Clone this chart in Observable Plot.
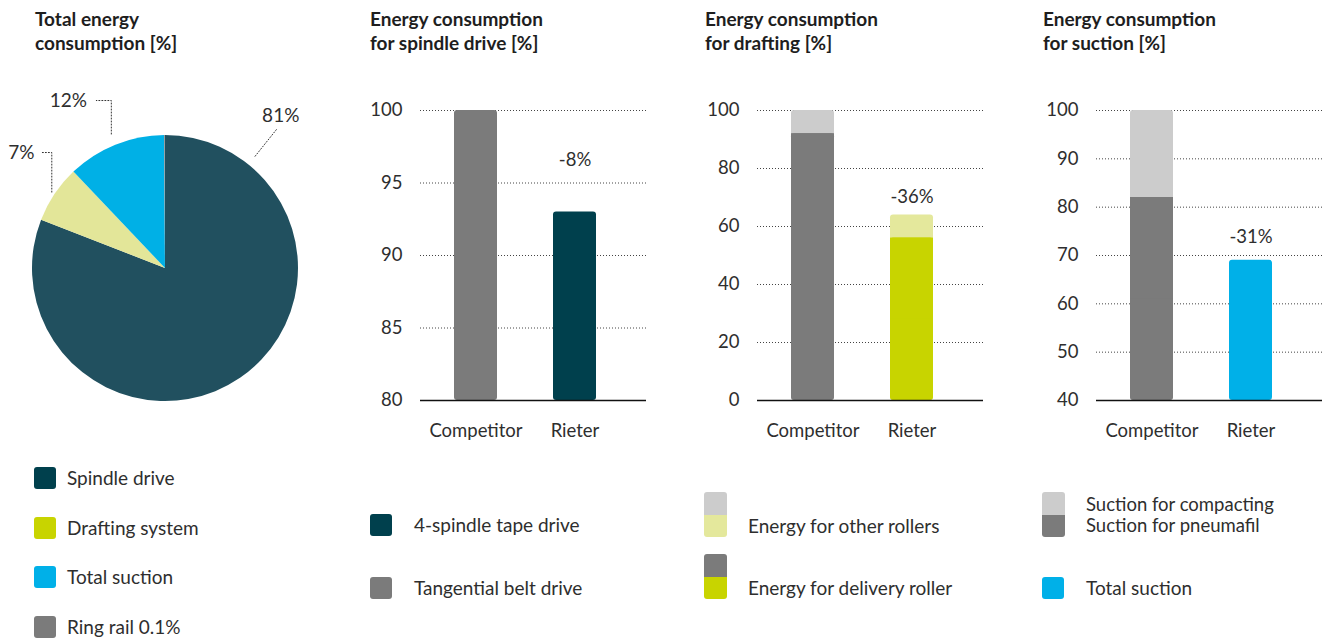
<!DOCTYPE html>
<html>
<head>
<meta charset="utf-8">
<script src="https://cdn.jsdelivr.net/npm/d3@7"></script>
<script src="https://cdn.jsdelivr.net/npm/@observablehq/plot@0.6"></script>
<style>
  html, body { margin: 0; padding: 0; background: #fff; }
  #root { position: relative; width: 1325px; height: 642px; overflow: hidden; font-family: Lato, "Noto Sans", sans-serif; color: #2e2e2e; }
  .title { position: absolute; top: 7px; font-weight: 700; font-size: 19px; line-height: 24px; color: #1e1e1e; white-space: nowrap; }
  .leg { position: absolute; display: flex; align-items: center; font-size: 19px; white-space: nowrap; color: #2e2e2e; }
  .sw { width: 22px; height: 22px; border-radius: 3px; }
  .split { width: 23px; height: 45px; border-radius: 3px; overflow: hidden; display: flex; flex-direction: column; }
  .split div { flex: 1; }
  svg { overflow: visible; }
</style>
</head>
<body>
<div id="root"></div>
<script>
// ---------------- data ----------------
const titles = [
  ["Total energy", "consumption [%]"],
  ["Energy consumption", "for spindle drive [%]"],
  ["Energy consumption", "for drafting [%]"],
  ["Energy consumption", "for suction [%]"]
];

// Panel 1: pie
const pieLabels = ["Spindle drive", "Drafting system", "Total suction", "Ring rail 0.1%"];
const pieValues = [81, 7, 12, 0.1];
const pieText = ["81%", "7%", "12%", ""];
const pieColors = ["#21505f", "#e3e699", "#00b0e6", "#8a8a8a"];
const pieLegendColors = ["#00404d", "#c8d400", "#00b0e8", "#7b7b7b"];

// Bar panels
const categories = ["Competitor", "Rieter"];

const spindleTicks = [80, 85, 90, 95, 100];
const spindleValues = [100, 93];
const spindleColors = ["#7b7b7b", "#00404d"];
const spindleChange = "-8%";
const spindleLegend = ["4-spindle tape drive", "Tangential belt drive"];
const spindleLegendColors = ["#00404d", "#7b7b7b"];

const draftingTicks = [0, 20, 40, 60, 80, 100];
const draftingDelivery = [92, 56];
const draftingOther = [8, 8];
const draftingLowerColors = ["#7b7b7b", "#c8d400"];
const draftingUpperColors = ["#cccccc", "#e4e89c"];
const draftingChange = "-36%";
const draftingLegend = ["Energy for other rollers", "Energy for delivery roller"];

const suctionTicks = [40, 50, 60, 70, 80, 90, 100];
const suctionLower = [82, 69];
const suctionUpper = [18, 0];
const suctionLowerColors = ["#7b7b7b", "#00b0e8"];
const suctionUpperColors = ["#cccccc", "#00b0e8"];
const suctionChange = "-31%";
const suctionLegend = ["Suction for compacting", "Suction for pneumafil", "Total suction"];

// ---------------- layout ----------------
const root = document.getElementById("root");
const titleX = [35, 370, 705, 1043];
titles.forEach((t, i) => {
  const d = document.createElement("div");
  d.className = "title";
  d.style.left = titleX[i] + "px";
  d.innerHTML = t.join("<br>");
  root.appendChild(d);
});

function place(node, left, top) {
  node.style.position = "absolute";
  node.style.left = left + "px";
  node.style.top = top + "px";
  root.appendChild(node);
}

// ---------------- pie ----------------
const pieData = pieLabels.map((label, i) => ({label, value: pieValues[i], text: pieText[i], color: pieColors[i]}));
const arcs = d3.pie().sort(null).value(d => d.value)(pieData);
const mid = a => (a.startAngle + a.endAngle) / 2;
// callout geometry (layout, in radius units)
const calloutLayout = {
  "81%": {type: "radial", angle: 38.6 * Math.PI / 180, r0: 1.08, r1: 1.35, rl: 1.44, la: 37 * Math.PI / 180},
  "7%":  {type: "elbow", r0: 1.03, ly: 0.872, lx: -0.94, tx: -0.985},
  "12%": {type: "elbow", r0: 1.09, ly: 1.263, lx: -0.52, tx: -0.59}
};
const leaderLines = [];
const leaderLabels = [];
arcs.forEach(a => {
  const L = calloutLayout[a.data.text];
  if (!L) return;
  if (L.type === "radial") {
    leaderLines.push([{x: Math.sin(L.angle) * L.r0, y: Math.cos(L.angle) * L.r0},
                      {x: Math.sin(L.angle) * L.r1, y: Math.cos(L.angle) * L.r1}]);
    leaderLabels.push({x: Math.sin(L.la) * L.rl, y: Math.cos(L.la) * L.rl, text: a.data.text, anchor: "middle"});
  } else {
    const m = mid(a);
    const px = Math.sin(m) * L.r0, py = Math.cos(m) * L.r0;
    leaderLines.push([{x: px, y: py}, {x: px, y: L.ly}, {x: L.lx, y: L.ly}]);
    leaderLabels.push({x: L.tx, y: L.ly, text: a.data.text, anchor: "end"});
  }
});

const pie = Plot.plot({
  width: 330, height: 420,
  x: {domain: [-1, 1], range: [32, 298], axis: null},
  y: {domain: [-1, 1], range: [401, 135], axis: null},
  style: {fontFamily: "Lato, sans-serif", fontSize: "19px", color: "#2e2e2e", background: "transparent"},
  marks: [
    (index, scales) => {
      const cx = scales.x(0), cy = scales.y(0), r = scales.x(1) - cx;
      const g = d3.create("svg:g").attr("transform", `translate(${cx},${cy})`);
      g.selectAll("path").data(arcs).join("path")
        .attr("d", d3.arc().innerRadius(0).outerRadius(r))
        .attr("fill", d => d.data.color);
      return g.node();
    },
    ...leaderLines.map(pts => Plot.line(pts, {x: "x", y: "y", stroke: "#333", strokeWidth: 1, strokeDasharray: "1,2"})),
    Plot.text(leaderLabels.filter(d => d.anchor === "end"), {x: "x", y: "y", text: "text", textAnchor: "end", fill: "#2e2e2e", fontSize: 19}),
    Plot.text(leaderLabels.filter(d => d.anchor === "middle"), {x: "x", y: "y", text: "text", textAnchor: "middle", fill: "#2e2e2e", fontSize: 19})
  ]
});
place(pie, 0, 0);

// ---------------- bar panels ----------------
function barPanel({left, ticks, lower, upper, lowerColors, upperColors, change, changeDy}) {
  const min = ticks[0], max = ticks[ticks.length - 1];
  const rows = categories.map((c, i) => ({cat: c, lower: lower[i], total: lower[i] + (upper ? upper[i] : 0),
    lc: lowerColors[i], uc: upperColors ? upperColors[i] : lowerColors[i], hasUpper: !!(upper && upper[i])}));
  const stacked = rows.filter(d => d.hasUpper);
  const chart = Plot.plot({
    width: 288, height: 370,
    marginTop: 30, marginBottom: 50, marginLeft: 60, marginRight: 2,
    style: {fontFamily: "Lato, sans-serif", fontSize: "18.5px", color: "#2e2e2e", background: "transparent"},
    x: {domain: categories, paddingInner: 0.57, paddingOuter: 0.415, align: 0.404, tickSize: 0, tickPadding: 23, label: null},
    y: {domain: [min, max], ticks: ticks, tickSize: 0, tickPadding: 18, label: null},
    marks: [
      Plot.ruleY(ticks.slice(1), {stroke: "#444", strokeWidth: 1, strokeDasharray: "1,2"}),
      Plot.barY(rows, {x: "cat", y1: min, y2: "total", fill: "uc", rx: 3}),
      Plot.barY(stacked, {x: "cat", y1: min, y2: "lower", fill: "lc", rx: 3}),
      Plot.barY(stacked, {x: "cat", y1: d => (min + d.lower) / 2, y2: "lower", fill: "lc"}),
      Plot.ruleY([min], {stroke: "#111", strokeWidth: 1.5}),
      Plot.text([rows[1]], {x: "cat", y: "total", text: () => change, dy: changeDy, fill: "#2e2e2e", fontSize: 18.5})
    ]
  });
  place(chart, left, 80);
}

barPanel({left: 360, ticks: spindleTicks, lower: spindleValues, lowerColors: spindleColors, change: spindleChange, changeDy: -52});
barPanel({left: 697, ticks: draftingTicks, lower: draftingDelivery, upper: draftingOther,
  lowerColors: draftingLowerColors, upperColors: draftingUpperColors, change: draftingChange, changeDy: -18});
barPanel({left: 1036, ticks: suctionTicks, lower: suctionLower, upper: suctionUpper,
  lowerColors: suctionLowerColors, upperColors: suctionUpperColors, change: suctionChange, changeDy: -23});

// ---------------- legends ----------------
function legendItem(left, top, swatch, texts, gap, lh) {
  const d = document.createElement("div");
  d.className = "leg";
  d.style.left = left + "px";
  d.style.top = top + "px";
  d.appendChild(swatch);
  const t = document.createElement("div");
  t.style.marginLeft = gap + "px";
  t.style.lineHeight = (lh || 22) + "px";
  t.innerHTML = texts.join("<br>");
  d.appendChild(t);
  root.appendChild(d);
  return d;
}
function square(color) {
  const s = document.createElement("div");
  s.className = "sw";
  s.style.background = color;
  return s;
}
function split(top, bottom) {
  const s = document.createElement("div");
  s.className = "split";
  const a = document.createElement("div"); a.style.background = top;
  const b = document.createElement("div"); b.style.background = bottom;
  s.appendChild(a); s.appendChild(b);
  return s;
}

// Panel 1
const leg1Top = [467, 517, 566, 616];
pieLabels.forEach((label, i) => legendItem(34, leg1Top[i], square(pieLegendColors[i]), [label], 11));

// Panel 2
legendItem(370, 514, square(spindleLegendColors[0]), [spindleLegend[0]], 22);
legendItem(370, 577, square(spindleLegendColors[1]), [spindleLegend[1]], 22);

// Panel 3
const l3a = legendItem(704, 492, split(draftingUpperColors[0], draftingUpperColors[1]), [draftingLegend[0]], 21);
l3a.style.alignItems = "flex-end";
const l3b = legendItem(704, 554, split(draftingLowerColors[0], draftingLowerColors[1]), [draftingLegend[1]], 21);
l3b.style.alignItems = "flex-end";

// Panel 4
const l4a = legendItem(1042, 492, split(suctionUpperColors[0], suctionLowerColors[0]), [suctionLegend[0], suctionLegend[1]], 21, 21);
l4a.lastChild.style.fontSize = "18.5px";
legendItem(1042, 577, square(suctionLowerColors[1]), [suctionLegend[2]], 22);
</script>
</body>
</html>
